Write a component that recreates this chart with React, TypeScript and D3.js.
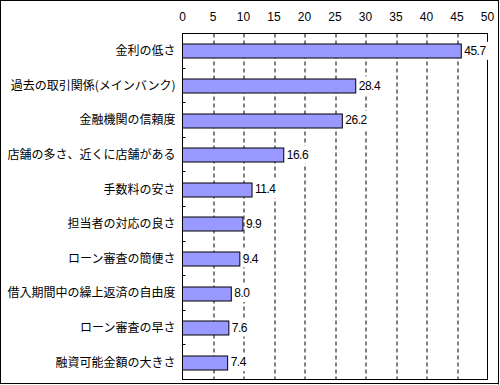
import * as d3 from "d3";
import React from "react";

const categories = [
  "金利の低さ",
  "過去の取引関係(メインバンク)",
  "金融機関の信頼度",
  "店舗の多さ、近くに店舗がある",
  "手数料の安さ",
  "担当者の対応の良さ",
  "ローン審査の簡便さ",
  "借入期間中の繰上返済の自由度",
  "ローン審査の早さ",
  "融資可能金額の大きさ",
];
const values = [45.7, 28.4, 26.2, 16.6, 11.4, 9.9, 9.4, 8.0, 7.6, 7.4];
const xTicks = [0, 5, 10, 15, 20, 25, 30, 35, 40, 45, 50];

const width = 500;
const height = 385;
const margin = { left: 182.5, right: 12.5, top: 33.5, bottom: 5.5 };

export default function App() {
  const innerW = width - margin.left - margin.right;
  const innerH = height - margin.top - margin.bottom;

  const x = d3.scaleLinear().domain([0, 50]).range([0, innerW]);
  const y = d3
    .scaleBand<string>()
    .domain(categories)
    .range([0, innerH])
    .paddingInner(0.6)
    .paddingOuter(0.3);
  const step = y.step();
  const fmt = d3.format(".1f");

  return (
    <svg
      width={width}
      height={height}
      style={{ position: "absolute", left: 0, top: 0 }}
    >
      <rect x={0} y={0} width={width} height={height} fill="#fff" />
      <rect x={0.5} y={0.5} width={498} height={383} fill="none" stroke="#000" strokeWidth={1} />
      <line x1={498.5} y1={1} x2={498.5} y2={384.5} stroke="#000" />
      <line x1={1} y1={383.5} x2={498.5} y2={383.5} stroke="#000" />
      <g transform={`translate(${margin.left},${margin.top})`}>
        {xTicks.map((t) => (
          <text
            key={t}
            x={x(t)}
            y={-13}
            textAnchor="middle"
            fontFamily="Liberation Sans, Arial, sans-serif"
            fontSize={12}
            fill="#000"
          >
            {t}
          </text>
        ))}
        {xTicks.slice(1, -1).map((t) => (
          <line
            key={t}
            x1={Math.round(x(t)) + 0.5}
            x2={Math.round(x(t)) + 0.5}
            y1={0}
            y2={innerH}
            stroke="#000"
            strokeDasharray="4,3"
          />
        ))}
        <rect x={0} y={0} width={innerW} height={innerH} fill="none" stroke="#000" />
        {d3.range(1, categories.length).map((i) => (
          <line
            key={i}
            x1={0}
            x2={3}
            y1={Math.round(i * step) + 0.5 - 0.5}
            y2={Math.round(i * step) + 0.5 - 0.5}
            stroke="#000"
          />
        ))}
        {categories.map((c, i) => {
          const yy = y(c)!;
          const bh = y.bandwidth();
          const xe = x(values[i]);
          const label = fmt(values[i]);
          const lw = label.length * 6.2;
          return (
            <g key={c}>
              <rect
                x={0}
                y={Math.round(yy) + 0.5}
                width={xe}
                height={Math.round(bh)}
                fill="#9999FF"
                stroke="#000"
              />
              <rect x={xe + 2} y={yy + bh / 2 - 9} width={lw} height={18} fill="#fff" />
              <text
                x={xe + 3}
                y={yy + bh / 2}
                dy="0.35em"
                fontFamily="Liberation Sans, Arial, sans-serif"
                fontSize={12}
                letterSpacing={-0.5}
                fill="#000"
              >
                {label}
              </text>
              <text
                x={-7}
                y={yy + bh / 2}
                dy="0.36em"
                textAnchor="end"
                fontFamily="Noto Sans CJK JP, sans-serif"
                fontSize={12}
                fill="#000"
              >
                {c}
              </text>
            </g>
          );
        })}
      </g>
    </svg>
  );
}
